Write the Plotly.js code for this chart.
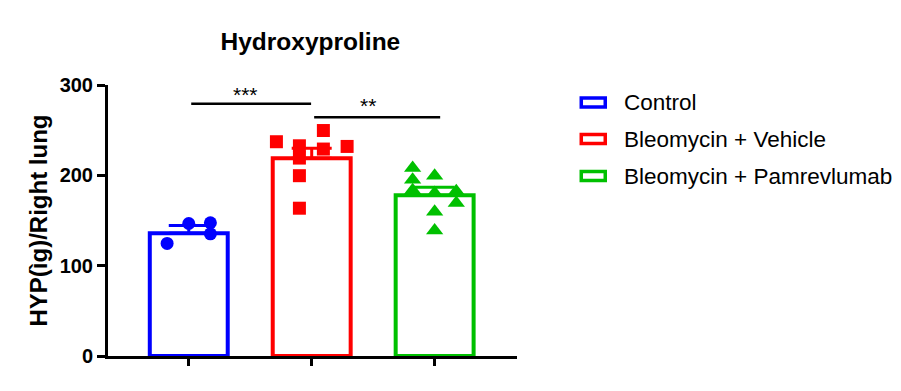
<!DOCTYPE html>
<html>
<head>
<meta charset="utf-8">
<script src="https://cdn.plot.ly/plotly-3.0.1.min.js"></script>
<style>
  html, body { margin: 0; padding: 0; background: #fff; }
  #chart { width: 901px; height: 391px; }
</style>
</head>
<body>
<div id="chart"></div>
<script>
// ---- data ----
const groups = ['Control', 'Bleomycin + Vehicle', 'Bleomycin + Pamrevlumab'];
const groupMeans = [136, 219, 178];
const groupSEM = [8.5, 11, 8.7];
const controlValues = [124.6, 146.7, 147.5, 135.3];
const vehicleValues = [237.2, 232.7, 219.1, 199.6, 163.6, 249.6, 229.1, 232.0];
const pamrevlumabValues = [208, 195.2, 183.4, 199.6, 180.5, 159.6, 139, 182.4, 169.5];
const comparisonPairs = [[0, 1], [1, 2]];
const comparisonLabels = ['***', '**'];
const yTickValues = [0, 100, 200, 300];
const chartTitle = 'Hydroxyproline';
const yAxisTitle = 'HYP(ìg)/Right lung';

// ---- styling / placement (not data) ----
const colors = ['#0000FF', '#FF0000', '#00C000'];
const symbols = ['circle', 'square', 'triangle-up'];
const markerSizes = [13, 13, 15];
// column scatter offsets (GraphPad style placement of points within a bar)
const pointColumns = [
  [-0.176, 0, 0.176, 0.176],
  [-0.287, -0.1, -0.1, -0.1, -0.1, 0.095, 0.095, 0.288],
  [-0.179, -0.179, -0.179, 0, 0, 0, 0, 0.176, 0.176]
];
const sigLineY = [279.3, 264.2];
const sigTextY = [290, 277.5];
const FONT = 'Arial, "Liberation Sans", sans-serif';

const pointSets = [controlValues, vehicleValues, pamrevlumabValues];
const traces = [];

groups.forEach((g, i) => {
  traces.push({
    type: 'bar',
    x: [i],
    y: [groupMeans[i]],
    width: 0.634,
    marker: { color: 'rgba(255,255,255,1)', line: { color: colors[i], width: 4 } },
    error_y: {
      type: 'data', symmetric: false, array: [groupSEM[i]], arrayminus: [0],
      color: colors[i], thickness: 3, width: 20
    },
    showlegend: false,
    hoverinfo: 'skip'
  });
});

pointSets.forEach((vals, i) => {
  traces.push({
    type: 'scatter',
    mode: 'markers',
    x: vals.map((v, k) => i + pointColumns[i][k]),
    y: vals,
    marker: { symbol: symbols[i], size: markerSizes[i], color: colors[i], line: { width: 0 } },
    showlegend: false,
    hoverinfo: 'skip',
    cliponaxis: false
  });
});

// plot area in pixels
const L = 107.5, R = 516.7, T = 85, B = 356, W = 901, H = 391;
const px2paperX = p => (p - L) / (R - L);
const px2paperY = p => (B - p) / (B - T);

const shapes = [];
const annotations = [];

comparisonPairs.forEach((pair, k) => {
  shapes.push({
    type: 'line', xref: 'x', yref: 'y',
    x0: pair[0] + 0.02, x1: pair[1] - 0.005 + (k === 1 ? 0.05 : 0),
    y0: sigLineY[k], y1: sigLineY[k],
    line: { color: '#000', width: 2.5 }
  });
  annotations.push({
    xref: 'x', yref: 'y', x: (pair[0] + pair[1]) / 2 - 0.04, y: sigTextY[k],
    text: comparisonLabels[k], showarrow: false, yanchor: 'middle',
    font: { family: FONT, size: 21, color: '#000' }
  });
});

// legend (drawn manually to reproduce wide outlined swatches)
const legendRowsPx = [102.5, 139, 176];
groups.forEach((g, i) => {
  shapes.push({
    type: 'rect', xref: 'paper', yref: 'paper',
    x0: px2paperX(581), x1: px2paperX(605),
    y0: px2paperY(legendRowsPx[i] + 4.5), y1: px2paperY(legendRowsPx[i] - 4.5),
    line: { color: colors[i], width: 3.5 }, fillcolor: 'rgba(0,0,0,0)'
  });
  annotations.push({
    xref: 'paper', yref: 'paper', x: px2paperX(622), y: px2paperY(legendRowsPx[i]),
    xanchor: 'left', yanchor: 'middle', text: g, showarrow: false,
    font: { family: FONT, size: 22.5, color: '#000' }
  });
});

const layout = {
  width: W, height: H,
  margin: { l: L, r: W - R, t: T, b: H - B, pad: 0 },
  paper_bgcolor: '#fff', plot_bgcolor: '#fff',
  barmode: 'overlay',
  showlegend: false,
  title: {
    text: '<b>' + chartTitle + '</b>',
    x: px2paperX(310), xref: 'paper', xanchor: 'center',
    y: 1 - 41 / H, yanchor: 'middle',
    font: { family: FONT, size: 24.5, color: '#000' }
  },
  xaxis: {
    range: [-(188.3 - L) / 123, (R - 188.3) / 123],
    tickvals: [0, 1, 2], ticktext: ['', '', ''],
    showgrid: false, zeroline: false,
    showline: true, linecolor: '#000', linewidth: 3,
    ticks: 'outside', ticklen: 7, tickwidth: 3, tickcolor: '#000',
    fixedrange: true
  },
  yaxis: {
    range: [0, 300],
    tickvals: yTickValues,
    showgrid: false, zeroline: false,
    showline: true, linecolor: '#000', linewidth: 3,
    ticks: 'outside', ticklen: 8, tickwidth: 3, tickcolor: '#000',
    tickfont: { family: FONT, size: 20, color: '#000', weight: 'bold' },
    title: {
      text: '<b>' + yAxisTitle + '</b>', standoff: 6,
      font: { family: FONT, size: 24, color: '#000' }
    },
    fixedrange: true
  },
  shapes: shapes,
  annotations: annotations
};

Plotly.newPlot('chart', traces, layout, { displayModeBar: false, staticPlot: true });
</script>
</body>
</html>
